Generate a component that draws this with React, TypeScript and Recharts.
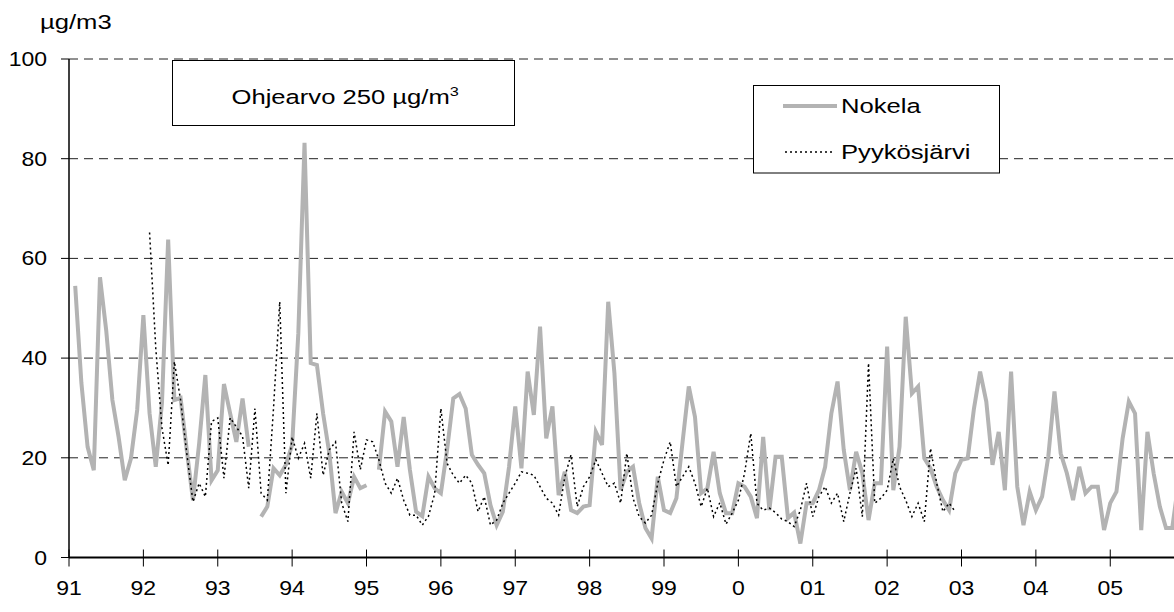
import React from "react";
import { LineChart, Line, XAxis, YAxis, CartesianGrid, Legend } from "recharts";

// month index 0 = Jan 1991
const months: number[] = Array.from({ length: 180 }, (_, i) => i);

const nokela: (number | null)[] = [
  null, 54.5, 35, 22.2, 17.5, 56.2, 45.6, 31.6, 24.2, 15.5, 19.9, 29.6,
  48.6, 28.9, 18.2, 31, 63.8, 31.6, 32, 21.5, 11.5, 22.9, 36.6, 15.5,
  17.5, 34.8, 28.9, 23.2, 31.9, 22.2, null, 8.2, 10.2, 17.9, 16.5, 18.6,
  22.6, 45, 83.2, 39, 38.6, 28.9, 20.9, 8.9, 13.2, 10.9, 16.2, 13.9,
  14.5, null, 17.6, 29.3, 27.3, 18.2, 28.2, 17.6, 9.2, 8.3, 16.2, 13.9,
  12.9, 21.6, 31.9, 32.8, 29.9, 20.6, 18.6, 16.9, 10.5, 6.5, 9.2, 18.2,
  30.3, 17.9, 37.3, 28.6, 46.3, 23.9, 30.3, 12.5, 17.2, 9.5, 8.9, 10.2,
  10.5, 25.2, 22.6, 51.3, 37, 13.5, 17.2, 18.2, 10.9, 5.9, 3.8, 16.2,
  9.5, 8.9, 11.9, 23.2, 34.3, 28.2, 12.9, 13.9, 21.2, 12.9, 8.9, 8.9,
  14.9, 14.2, 12.2, 7.9, 24.2, 9.5, 20.2, 20.2, 7.9, 9.0, 2.8, 10.9,
  10.9, 13.5, 18.2, 28.9, 35.3, 21.6, 13.5, 21.2, 16.9, 7.5, 14.9, 14.9,
  42.3, 13.5, 22.2, 48.3, 32.9, 34.3, 19.9, 17.9, 14.2, 11.5, 9.5, 16.9,
  19.6, 19.9, 29.8, 37.3, 31.3, 18.6, 25.2, 13.5, 37.3, 14.2, 6.5, 13.2,
  9.5, 12.2, 20.2, 33.3, 20.9, 16.9, 11.5, 18.2, 12.9, 14.2, 14.2, 5.5,
  10.9, 13.2, 23.9, 31.3, 28.9, 5.5, 25.2, 16.9, 10.2, 5.9, 5.9, 15,
];

const pyykosjarvi: (number | null)[] = [
  null, null, null, null, null, null, null, null, null, null, null, null,
  null, 65.2, 42, 26, 18.5, 39.3, 31.6, 20.9, 11.2, 14.9, 12.2, 27.3,
  28, 15.9, 28, 26.2, 24.3, 13.9, 29.9, 12.9, 11.5, 30, 51.3, 12.9,
  24.2, 19.9, 22.9, 15.9, 28.9, 16.5, 21.6, 23.2, 10.9, 7.2, 25.2, 17.6,
  23.6, 23.2, 19.6, 14.9, 12.9, 15.9, 11.5, 8.5, 8.5, 6.5, 8.3, 12.8,
  29.9, 18.9, 16.5, 14.9, 16.5, 14.9, 9.2, 12.2, 6.5, 7.5, 10.9, 12.9,
  14.9, 17.2, 16.9, 16.5, 14.2, 11.9, 10.9, 8.5, 16.2, 20.6, 10.2, 14.2,
  16.2, 19.6, 16.9, 14.2, 14.9, 10.9, 20.9, 11.9, 8.2, 6.9, 8.5, 14.9,
  19.6, 23.2, 14.2, 16.2, 18.2, 14.9, 10.2, 13.9, 8.2, 11, 6.7, 8.9,
  11.5, 16.9, 24.9, 10.9, 9.5, 9.9, 9, 7.7, 7.2, 6.2, 9.5, 14.9,
  8.2, 12.2, 14.2, 10.9, 12.9, 7.2, 12.9, 17.9, 8.2, 39, 10.9, 11.9,
  13.5, 19.9, 14.2, 11.5, 8.2, 10.9, 7.2, 21.9, 14.9, 9.2, 10.9, 9.2,
  null, null, null, null, null, null, null, null, null, null, null, null,
  null, null, null, null, null, null, null, null, null, null, null, null,
  null, null, null, null, null, null, null, null, null, null, null, null,
];

const yearTicks: number[] = [0, 12, 24, 36, 48, 60, 72, 84, 96, 108, 120, 132, 144, 156, 168, 180];
const yearLabels: string[] = ["91", "92", "93", "94", "95", "96", "97", "98", "99", "0", "01", "02", "03", "04", "05"];
const valueTicks: number[] = [0, 20, 40, 60, 80, 100];

const seriesNames = ["Nokela", "Pyykösjärvi"];
const unitLabel = "µg/m3";
const guideText = "Ohjearvo 250 µg/m";

const data = months.map((m) => ({ m, nokela: nokela[m], pyy: pyykosjarvi[m] }));

const FONT = "'Liberation Sans', Arial, sans-serif";
const TICK_FS = 20;
const TICK_SX = 1.15;
const BIG_FS = 20.5;
const BIG_SX = 1.25;

const XTick = (props: any) => {
  const { x, y, payload } = props;
  const idx = yearTicks.indexOf(payload.value);
  const label = idx >= 0 && idx < yearLabels.length ? yearLabels[idx] : "";
  if (!label) return null;
  return (
    <g>
      <line x1={x} x2={x} y1={y - 8} y2={y + 9} stroke="#000" strokeWidth={1} />
      <text
        transform={`translate(${x},${y + 37}) scale(${TICK_SX},1)`}
        textAnchor="middle"
        fontFamily={FONT}
        fontSize={TICK_FS}
        fill="#000"
      >
        {label}
      </text>
    </g>
  );
};

const YTick = (props: any) => {
  const { x, y, payload } = props;
  return (
    <g>
      <line x1={x - 8} x2={x} y1={y} y2={y} stroke="#000" strokeWidth={1} />
      <text
        transform={`translate(${x - 22},${y + 7}) scale(${TICK_SX},1)`}
        textAnchor="end"
        fontFamily={FONT}
        fontSize={TICK_FS}
        fill="#000"
      >
        {payload.value}
      </text>
    </g>
  );
};

const LegendBox = () => (
  <svg width={248} height={89} style={{ display: "block" }}>
    <rect x={0.5} y={0.5} width={246} height={87.5} fill="#fff" stroke="#000" strokeWidth={1} />
    <line x1={30} x2={84} y1={21} y2={21} stroke="#b3b3b3" strokeWidth={4} />
    <text transform={`translate(88,28) scale(${BIG_SX},1)`} fontFamily={FONT} fontSize={BIG_FS} fill="#000">
      {seriesNames[0]}
    </text>
    <line x1={32} x2={80} y1={67} y2={67} stroke="#000" strokeWidth={1.5} strokeDasharray="2 3" />
    <text transform={`translate(88,74) scale(${BIG_SX},1)`} fontFamily={FONT} fontSize={BIG_FS} fill="#000">
      {seriesNames[1]}
    </text>
  </svg>
);

export default function App() {
  return (
    <div
      style={{
        position: "absolute",
        left: 0,
        top: 0,
        width: 1174,
        height: 612,
        overflow: "hidden",
        background: "#fff",
      }}
    >
      <LineChart
        width={1259}
        height={612}
        data={data}
        margin={{ top: 59, right: 0, bottom: 24.5, left: 0 }}
      >
        <CartesianGrid vertical={false} stroke="#222" strokeDasharray="9 6" strokeWidth={1} />
        <XAxis
          dataKey="m"
          type="number"
          domain={[0, 192]}
          ticks={yearTicks}
          interval={0}
          height={30}
          tickSize={0}
          tickMargin={0}
          tickLine={false}
          tick={<XTick />}
          axisLine={{ stroke: "#000", strokeWidth: 2 }}
          allowDataOverflow
        />
        <YAxis
          type="number"
          domain={[0, 100]}
          ticks={valueTicks}
          interval={0}
          width={69}
          tickSize={0}
          tickMargin={0}
          tickLine={false}
          tick={<YTick />}
          axisLine={{ stroke: "#000", strokeWidth: 1.5 }}
        />
        <Line
          dataKey="nokela"
          name={seriesNames[0]}
          type="linear"
          stroke="#b3b3b3"
          strokeWidth={4}
          dot={false}
          activeDot={false}
          connectNulls={false}
          isAnimationActive={false}
        />
        <Line
          dataKey="pyy"
          name={seriesNames[1]}
          type="linear"
          stroke="#000"
          strokeWidth={1.5}
          strokeDasharray="2 3"
          dot={false}
          activeDot={false}
          connectNulls={false}
          isAnimationActive={false}
        />
        <Legend
          layout="vertical"
          align="center"
          verticalAlign="middle"
          content={() => <LegendBox />}
          wrapperStyle={{ left: 753, top: 85, width: 248, height: 89 }}
        />
      </LineChart>
      <svg
        width={1174}
        height={612}
        style={{ position: "absolute", left: 0, top: 0, pointerEvents: "none" }}
      >
        <text transform={`translate(40,29) scale(${BIG_SX},1)`} fontFamily={FONT} fontSize={BIG_FS} fill="#000">
          {unitLabel}
        </text>
        <rect x={172.5} y={60.5} width={342} height={65} fill="#fff" stroke="#000" strokeWidth={1} />
        <text transform={`translate(231.5,104) scale(${BIG_SX},1)`} fontFamily={FONT} fontSize={BIG_FS} fill="#000">
          {guideText}
          <tspan fontSize={13} dy={-8}>3</tspan>
        </text>
      </svg>
    </div>
  );
}
